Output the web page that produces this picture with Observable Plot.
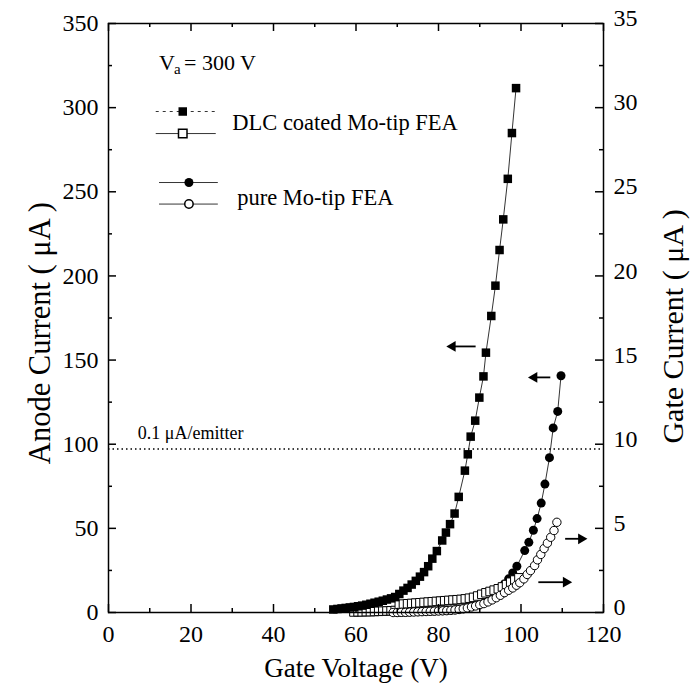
<!DOCTYPE html>
<html><head><meta charset="utf-8">
<script src="https://cdn.jsdelivr.net/npm/d3@7"></script>
<script src="https://cdn.jsdelivr.net/npm/@observablehq/plot@0.6"></script>
<style>body{margin:0;background:#fff} svg{display:block}</style>
</head><body><div id="chart"></div>
<script>
// DLC coated Mo-tip FEA, anode current (µA, left axis) — filled squares
const dlcAnodeV = [54.5,55.5,56.5,57.5,58.5,59.5,60.5,61.5,62.5,63.5,64.5,65.5,66.5,67.5,68.5,69.5,70.5,71.5,72.5,73.5,74.5,75.5,76.5,77.5,78.5,79.6,80.9,81.8,82.8,83.9,84.9,86.4,87.1,87.8,88.9,89.9,90.9,91.5,92.8,93.8,94.8,95.7,96.8,97.8,98.8];
const dlcAnodeI = [1.8,2.1,2.4,2.7,3.0,3.3,3.7,4.1,4.6,5.2,5.8,6.4,7.0,7.7,8.4,9.2,11.0,13.0,14.6,16.6,18.8,21.3,24.0,27.5,32.0,36.5,42.8,47.5,52.5,58.8,68.7,84.3,94.0,104.5,114.0,127.7,140.3,154.4,176.2,194.2,215.4,233.6,257.7,284.9,311.6];
// DLC coated Mo-tip FEA, gate current (µA, right axis) — open squares
const dlcGateV = [59.5,60.5,61.5,62.5,63.5,64.5,65.5,66.5,67.5,68.5,69.5,70.5,71.5,72.5,73.5,74.5,75.5,76.5,77.5,78.5,79.5,80.5,81.5,82.5,83.5,84.5,85.5,86.5,87.5,88.5,89.5,90.5,91.5,92.5,93.5,94.5,95.5,96.5,97.5,98.5,99.5];
const dlcGateI = [0.03,0.04,0.04,0.05,0.05,0.06,0.07,0.08,0.09,0.10,0.12,0.45,0.50,0.52,0.54,0.56,0.58,0.60,0.62,0.64,0.66,0.68,0.70,0.72,0.74,0.76,0.78,0.81,0.85,0.90,0.98,1.08,1.17,1.25,1.33,1.41,1.52,1.66,1.80,1.93,2.06];
// pure Mo-tip FEA, anode current (µA, left axis) — filled circles
const pureAnodeV = [70,71,72,73,74,75,76,77,78,79,80,81,82,83,84,85,86,87,88,89,90,91,92,93,94,95,96,97,98,99,100.9,101.9,103.0,103.9,104.9,105.8,106.9,107.8,108.9,109.7];
const pureAnodeI = [0,0.1,0.2,0.3,0.4,0.5,0.6,0.7,0.8,0.9,1.0,1.1,1.3,1.5,1.7,1.9,2.3,2.9,3.5,4.2,5.0,6.0,7.3,9.3,11.8,14.8,17.0,20.0,23.5,27.5,36.8,41.7,48.9,55.8,65.0,76.3,92.0,109.7,119.5,140.7];
// pure Mo-tip FEA, gate current (µA, right axis) — open circles
const pureGateV = [69,70,71,72,73,74,75,76,77,78,79,80,81,82,83,84,85,86,87,88,89,90,91,92,93,94,95,96,97,98,98.9,99.7,100.7,101.5,102.3,103.3,104.0,104.8,105.6,106.4,107.2,108.0,108.7];
const pureGateI = [0,0,0.01,0.01,0.02,0.03,0.04,0.05,0.06,0.07,0.08,0.09,0.10,0.11,0.13,0.15,0.18,0.22,0.27,0.33,0.39,0.46,0.53,0.63,0.75,0.88,1.02,1.18,1.32,1.46,1.62,1.77,2.00,2.26,2.49,2.79,3.13,3.45,3.80,4.12,4.47,4.87,5.36];

// axes
const xMajor = [0,20,40,60,80,100,120];
const xMinor = [10,30,50,70,90,110];
const yMajor = [0,50,100,150,200,250,300,350];
const yMinor = [25,75,125,175,225,275,325];
const gateRatio = 10; // right axis = left axis / 10
const threshold = 97.2; // 0.1 µA/emitter line

// arrows (annotation): tail V, head V, current level (left-axis units)
const arrowTail = [89.0, 107.1, 110.7, 104.2];
const arrowHead = [82.4, 102.2, 115.6, 111.9];
const arrowY    = [158.1, 139.7, 43.8, 18.0];

const mk = (V, I, k = 1) => V.map((v, i) => ({V: v, I: I[i] * k}));
const dlcA = mk(dlcAnodeV, dlcAnodeI);
const dlcG = mk(dlcGateV, dlcGateI, gateRatio);
const pureA = mk(pureAnodeV, pureAnodeI);
const pureG = mk(pureGateV, pureGateI, gateRatio);
const arrows = arrowTail.map((t, i) => ({t, h: arrowHead[i], y: arrowY[i], dir: arrowHead[i] < t ? -90 : 90}));

const serif = "'Liberation Serif', 'Times New Roman', serif";
const sq = 4.8, cr = 4.5;
const W = 695, H = 689, mL = 108, mR = 92, mT = 23, mB = 77;
const fw = W - mL - mR, fh = H - mT - mB;

const chart = Plot.plot({
  width: W, height: H,
  marginLeft: mL, marginRight: mR, marginTop: mT, marginBottom: mB,
  style: {fontFamily: serif, fontSize: "24px", color: "black", background: "white"},
  x: {domain: [0, 120], label: null},
  y: {domain: [0, 350], label: null},
  marks: [
    Plot.ruleY([threshold], {stroke: "black", strokeWidth: 1.5, strokeDasharray: "1.5,3"}),
    Plot.text(["0.1 μA/emitter"], {x: 7.1, y: 106.3, text: d => d, textAnchor: "start", fontSize: 18}),
    // connecting lines
    Plot.line(pureA, {x: "V", y: "I", stroke: "black", strokeWidth: 0.8}),
    Plot.line(dlcG, {x: "V", y: "I", stroke: "black", strokeWidth: 0.8}),
    Plot.line(pureG, {x: "V", y: "I", stroke: "black", strokeWidth: 0.8}),
    Plot.line(dlcA, {x: "V", y: "I", stroke: "black", strokeWidth: 0.8}),
    // markers
    Plot.dot(pureA, {x: "V", y: "I", symbol: "circle", r: cr, fill: "black"}),
    Plot.dot(dlcG, {x: "V", y: "I", symbol: "square", r: sq, fill: "white", stroke: "black", strokeWidth: 1}),
    Plot.dot(pureG, {x: "V", y: "I", symbol: "circle", r: 4.2, fill: "white", stroke: "black", strokeWidth: 1}),
    Plot.dot(dlcA, {x: "V", y: "I", symbol: "square", r: sq, fill: "black"}),
    // arrows
    Plot.link(arrows, {x1: "t", x2: d => d.h - (d.dir < 0 ? -1.2 : 1.2), y1: "y", y2: "y", stroke: "black", strokeWidth: 1.8}),
    Plot.dot(arrows, {x: d => d.h - (d.dir < 0 ? -1.0 : 1.0), y: "y", symbol: "triangle", r: 4, rotate: "dir", fill: "black"}),
    // annotation V_a = 300 V
    Plot.text(["V"], {x: 12.25, y: 326.6, text: d => d, textAnchor: "start", fontSize: 22}),
    Plot.text(["a"], {x: 12.25, y: 326.6, text: d => d, textAnchor: "start", fontSize: 15, dx: 15, dy: 6}),
    Plot.text(["= 300 V"], {x: 12.25, y: 326.6, text: d => d, textAnchor: "start", fontSize: 22, dx: 25}),
    // legend
    Plot.link([0], {x1: 11.45, x2: 26.0, y1: 297.7, y2: 297.7, stroke: "black", strokeWidth: 0.8, strokeDasharray: "3,4"}),
    Plot.dot([0], {x: 18.0, y: 297.7, symbol: "square", r: sq, fill: "black"}),
    Plot.link([0], {x1: 11.45, x2: 26.0, y1: 284.6, y2: 284.6, stroke: "black", strokeWidth: 0.8}),
    Plot.dot([0], {x: 18.0, y: 284.6, symbol: "square", r: sq, fill: "white", stroke: "black"}),
    Plot.text(["DLC coated Mo-tip FEA"], {x: 30.0, y: 291.2, text: d => d, textAnchor: "start", fontSize: 22.5}),
    Plot.link([0], {x1: 12.25, x2: 26.5, y1: 255.5, y2: 255.5, stroke: "black", strokeWidth: 0.8}),
    Plot.dot([0], {x: 19.5, y: 255.5, symbol: "circle", r: cr, fill: "black"}),
    Plot.link([0], {x1: 12.25, x2: 26.5, y1: 242.7, y2: 242.7, stroke: "black", strokeWidth: 0.8}),
    Plot.dot([0], {x: 19.5, y: 242.7, symbol: "circle", r: 4.2, fill: "white", stroke: "black"}),
    Plot.text(["pure Mo-tip FEA"], {x: 31.2, y: 246.6, text: d => d, textAnchor: "start", fontSize: 22.5}),
    // frame and inward ticks
    Plot.frame({stroke: "black", strokeWidth: 1.5}),
    Plot.tickX(xMajor, {x: d => d, insetTop: fh - 8, stroke: "black", strokeWidth: 1.5}),
    Plot.tickX(xMinor, {x: d => d, insetTop: fh - 4, stroke: "black", strokeWidth: 1.5}),
    Plot.tickX(xMajor, {x: d => d, insetBottom: fh - 8, stroke: "black", strokeWidth: 1.5}),
    Plot.tickX(xMinor, {x: d => d, insetBottom: fh - 4, stroke: "black", strokeWidth: 1.5}),
    Plot.tickY(yMajor, {y: d => d, insetRight: fw - 8, stroke: "black", strokeWidth: 1.5}),
    Plot.tickY(yMinor, {y: d => d, insetRight: fw - 4, stroke: "black", strokeWidth: 1.5}),
    Plot.tickY(yMajor, {y: d => d, insetLeft: fw - 8, stroke: "black", strokeWidth: 1.5}),
    Plot.tickY(yMinor, {y: d => d, insetLeft: fw - 4, stroke: "black", strokeWidth: 1.5}),
    // tick labels
    Plot.axisX({anchor: "bottom", ticks: xMajor, tickSize: 0, tickPadding: 12, fontSize: 24, label: null}),
    Plot.axisY({anchor: "left", ticks: yMajor, tickSize: 0, tickPadding: 10, fontSize: 24, label: null}),
    Plot.axisY({anchor: "right", ticks: yMajor, tickSize: 0, tickPadding: 10, dy: -5, fontSize: 24, tickFormat: d => d / gateRatio, label: null}),
    // titles
    Plot.text(["Gate Voltage (V)"], {frameAnchor: "bottom", dy: 56, lineAnchor: "middle", textAnchor: "middle", text: d => d, fontSize: 27}),
    Plot.text(["Anode Current ( μA )"], {frameAnchor: "left", y: 166, dx: -68, rotate: -90, textAnchor: "middle", lineAnchor: "middle", text: d => d, fontSize: 30.5}),
    Plot.text(["Gate Current ( μA )"], {frameAnchor: "right", y: 170, dx: 70, rotate: -90, textAnchor: "middle", lineAnchor: "middle", text: d => d, fontSize: 30})
  ]
});
document.getElementById("chart").appendChild(chart);
</script>
</body></html>
